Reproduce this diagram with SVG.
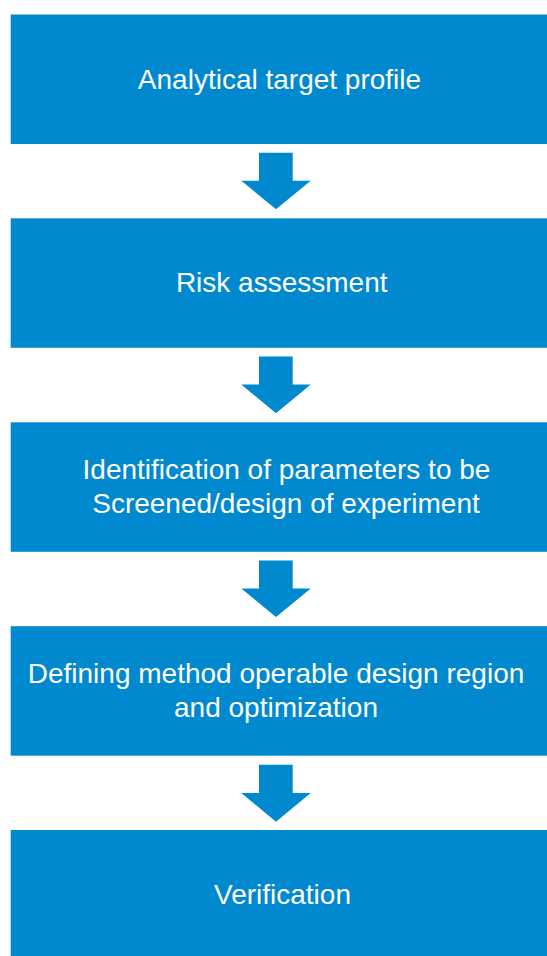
<svg xmlns="http://www.w3.org/2000/svg" width="547" height="956" viewBox="0 0 547 956">
<style>
.box{fill:#0089CF}
.arrow{fill:#0089CF}
.lbl{font-family:"Liberation Sans",Arial,sans-serif;font-size:28px;fill:#ffffff;text-anchor:middle}
</style>
<rect width="547" height="956" fill="#ffffff"/>
<g id="node1"><rect class="box" x="10.7" y="14.5" width="540" height="129.5"/><text class="lbl" x="279.5" y="88.5">Analytical target profile</text></g>
<g id="node2"><rect class="box" x="10.7" y="218.3" width="540" height="129.5"/><text class="lbl" x="281.7" y="291.7">Risk assessment</text></g>
<g id="node3"><rect class="box" x="10.7" y="422.3" width="540" height="129.5"/><text class="lbl" x="286.5" y="479.3">Identification of parameters to be</text><text class="lbl" x="286" y="513.3">Screened/design of experiment</text></g>
<g id="node4"><rect class="box" x="10.7" y="626.2" width="540" height="129.5"/><text class="lbl" x="276" y="683.3">Defining method operable design region</text><text class="lbl" x="276" y="717.3">and optimization</text></g>
<g id="node5"><rect class="box" x="10.7" y="830" width="540" height="130"/><text class="lbl" x="282.5" y="903.5">Verification</text></g>
<g id="connectors">
<polygon class="arrow" points="259,152.7 292.7,152.7 292.7,180.7 310.7,180.7 276,209.3 241.3,180.7 259,180.7"/>
<polygon class="arrow" points="259,356.6 292.7,356.6 292.7,384.6 310.7,384.6 276,413.2 241.3,384.6 259,384.6"/>
<polygon class="arrow" points="259,560.5 292.7,560.5 292.7,588.5 310.7,588.5 276,617.1 241.3,588.5 259,588.5"/>
<polygon class="arrow" points="259,764.7 292.7,764.7 292.7,793.1 310.7,793.1 276,821.7 241.3,793.1 259,793.1"/>
</g>
</svg>
